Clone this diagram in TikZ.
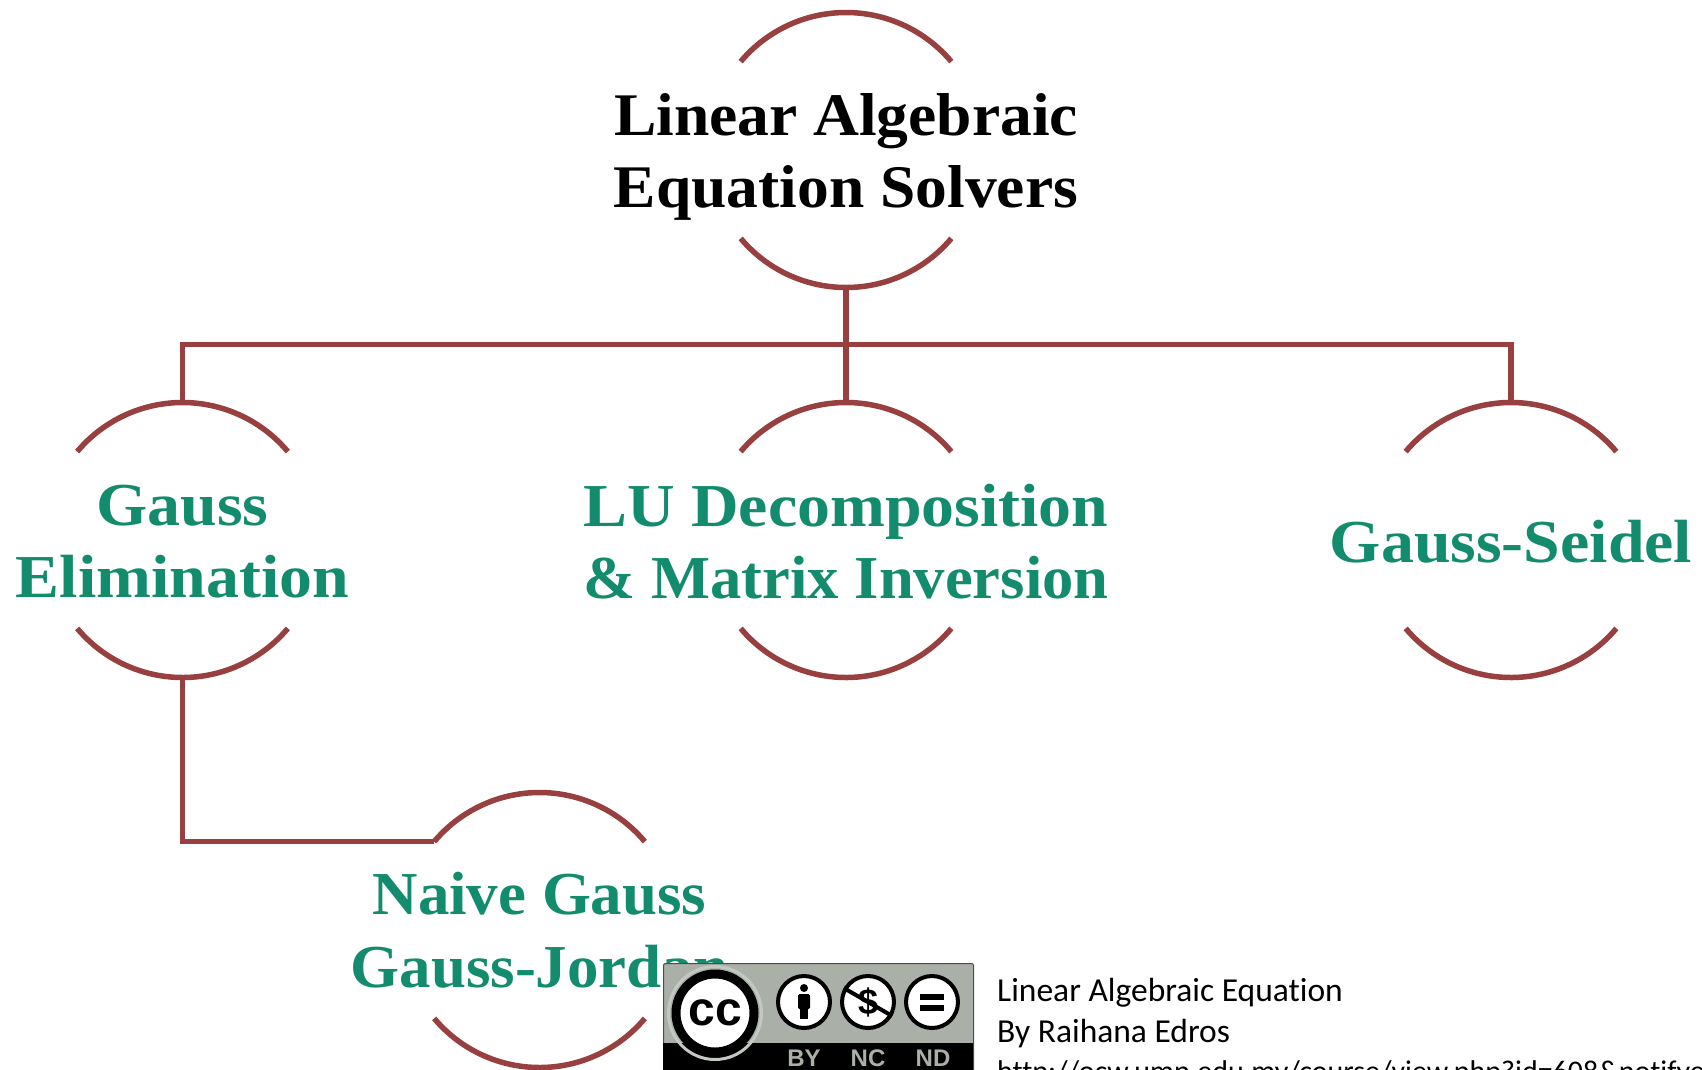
\documentclass[tikz,border=0pt]{standalone}
\usepackage{fontspec}
\setmainfont{Liberation Serif}
\newfontfamily\headfont[FakeStretch=1.05]{Liberation Serif}
\newfontfamily\leaffont[FakeStretch=1.08]{Liberation Serif}
\newfontfamily\notefont[Ligatures=NoCommon]{Carlito}
\newfontfamily\badgefont{Liberation Sans}
\usetikzlibrary{calc}
\definecolor{Brick}{HTML}{983F3F}
\definecolor{Pine}{HTML}{128C6C}
\definecolor{Badge}{HTML}{AAB0A8}
\begin{document}
\begin{tikzpicture}[
    x=1pt,y=-1pt,
    hub/.style={circle,minimum size=275pt,inner sep=0pt,outer sep=0pt},
    link/.style={line width=5.5pt,draw=Brick},
    head/.style={align=center,font=\fontsize{60.5}{72.5}\headfont\bfseries,text=black,inner sep=0pt,yshift=-7pt},
    leaf/.style={align=center,font=\fontsize{61}{72.5}\leaffont\bfseries,text=Pine,inner sep=0pt,yshift=-1.5pt},
    note/.style={anchor=base west,inner sep=0pt,font=\fontsize{33.5}{33.5}\notefont},
    sign/.style={circle,draw=black,line width=4pt,fill=white,minimum size=52pt,inner sep=0pt},
    tag/.style={anchor=base,inner sep=0pt,text=Badge,font=\fontsize{24}{24}\badgefont\bfseries}
  ]
    \useasboundingbox (0,0) rectangle (1702,1069);
    \node[hub,label={[head]center:{Linear Algebraic\\Equation Solvers}}] (root) at (846,150) {};
    \node[hub,label={[leaf]center:{Gauss\\Elimination}}] (gauss) at (182.5,540) {};
    \node[hub,label={[leaf]center:{LU Decomposition\\\scalebox{.95}[1]{\& Matrix Inversion}}}] (lu) at (846,540) {};
    \node[hub,label={[leaf]center:{Gauss-Seidel}}] (seidel) at (1511,540) {};
    \node[hub,label={[leaf,xscale=.955,yshift=1.5pt]center:{Naive Gauss\\Gauss-Jordan}}] (naive) at (539.5,930) {};
    \foreach \n in {root,gauss,lu,seidel,naive} {
      \draw[link] (\n.40) arc[start angle=40,end angle=140,radius=137.5pt];
      \draw[link] (\n.220) arc[start angle=220,end angle=320,radius=137.5pt];
    }
    \coordinate (bus) at ($(root.south)+(0,57)$);
    \draw[link] (root.south) -- (lu.north);
    \draw[link,line join=miter] (gauss.north) |- (bus) -| (seidel.north);
    \draw[link,line join=miter] (gauss.south) |- (naive.140);
    % licence badge
    \node[draw=black!70,line width=1pt,fill=Badge,rounded corners=2pt,minimum width=310pt,minimum height=120pt,inner sep=0pt,anchor=north west] (badge) at (663,963) {};
    \node[fill=black,minimum width=310pt,minimum height=40pt,inner sep=0pt,anchor=north west] (strip) at (663,1043) {};
    \node[circle,draw=Badge!70!white,line width=3pt,minimum size=93pt,inner sep=0pt] (ccring) at (715,1013) {};
    \node[circle,draw=black,line width=9pt,fill=white,minimum size=78pt,inner sep=0pt,font=\fontsize{48}{48}\badgefont\bfseries] (cc) at (715,1013) {cc};
    \node[sign] (by) at (804,1002) {};
    \node[sign] (nc) at (868,1002) {};
    \node[sign] (nd) at (932,1002) {};
    \fill (by.center) ++(0,-14) circle (4pt);
    \fill[rounded corners=1.5pt] ($(by.center)+(-6,-8)$) rectangle ($(by.center)+(6,7)$);
    \fill ($(by.center)+(-4,4)$) rectangle ($(by.center)+(4,17)$);
    \node[inner sep=0pt,font=\fontsize{36}{36}\badgefont\bfseries] (dollar) at (nc.center) {\$};
    \draw[line width=4pt] (nc.150) -- (nc.330);
    \fill ($(nd.center)+(-12,-8)$) rectangle ($(nd.center)+(12,-2)$);
    \fill ($(nd.center)+(-12,3)$) rectangle ($(nd.center)+(12,9)$);
    \node[tag] (bytag) at (804,1066) {BY};
    \node[tag] (nctag) at (868,1066) {NC};
    \node[tag] (ndtag) at (933,1066) {ND};
    % source lines
    \node[note] (src1) at (997,1001) {Linear Algebraic Equation};
    \node[note] (src2) at (997,1042) {By Raihana Edros};
    \node[note,font=\fontsize{30}{30}\notefont] (src3) at (997,1081) {http://ocw.ump.edu.my/course/view.php?id=608\&notifye};
\end{tikzpicture}
\end{document}
